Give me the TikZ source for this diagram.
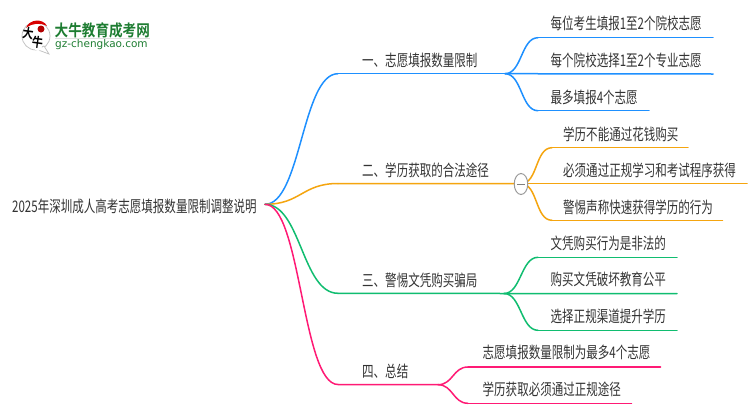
\documentclass[tikz,border=0pt]{standalone}
\usepackage{fontspec}
\usetikzlibrary{calc,shapes.geometric}
\newfontfamily\cjk[FakeStretch=0.72]{Noto Sans CJK SC}
\newfontfamily\cjkb[FakeStretch=0.85]{Noto Sans CJK SC Bold}
\newfontfamily\lat{DejaVu Sans}
\definecolor{cblue}{HTML}{1E90FF}
\definecolor{corange}{HTML}{F5A50F}
\definecolor{cgreen}{HTML}{10BD70}
\definecolor{cpink}{HTML}{FF1A75}
\definecolor{ctext}{HTML}{333333}
\definecolor{cgz}{HTML}{1E7D32}
\tikzset{
  lab/.style={anchor=west,inner sep=0pt,font=\cjk\fontsize{16}{16}\selectfont,text=ctext},
  conn/.style={line width=1.5pt,line cap=round},
  pt/.style={inner sep=0pt,minimum size=0pt}
}
\newcommand{\lk}[4]{\draw[conn,#1] (#2) .. controls ($(#2)+(#4,0)$) and ($(#3)+(-#4,0)$) .. (#3);}
\begin{document}
\begin{tikzpicture}[x=1pt,y=-1pt]
\useasboundingbox[fill=white] (0,0) rectangle (750,410);
% root
\node[lab] (root) at (12,206) {2025年深圳成人高考志愿填报数量限制调整说明};
\coordinate (r) at (265,204.3);
% level 1 lines
\coordinate (a0) at (338,73.7); \coordinate (a1) at (505,73.7);
\coordinate (b0) at (338,183.5); \coordinate (b1) at (521,183.7);
\coordinate (c0) at (338,293.3); \coordinate (c1) at (504,293.5);
\coordinate (d0) at (338,384.5); \coordinate (d1) at (438,384.7);
\lk{cblue}{r}{a0}{36}
\lk{corange}{r}{b0}{36}
\lk{cgreen}{r}{c0}{36}
\lk{cpink}{r}{d0}{36}
\draw[conn,cblue] (a0)--(a1);
\draw[conn,corange] (b0)--(b1);
\draw[conn,cgreen] (c0)--(c1);
\draw[conn,cpink] (d0)--(d1);
\node[lab] (A) at (362,60) {一、志愿填报数量限制};
\node[lab] (B) at (362,170) {二、学历获取的合法途径};
\node[lab] (C) at (362,280) {三、警惕文凭购买骗局};
\node[lab] (D) at (362,371) {四、总结};
% blue leaves
\coordinate (a10) at (538,37.7); \coordinate (a11) at (713,37.7);
\coordinate (a21) at (713,74);
\coordinate (a30) at (538,110.7); \coordinate (a31) at (649,110.7);
\lk{cblue}{a1}{a10}{17} \lk{cblue}{a1}{a30}{17}
\draw[conn,cblue] (a1)--(a21);
\draw[conn,cblue] (a10)--(a11);
\draw[conn,cblue] (a30)--(a31);
\node[lab] (A1) at (550.5,23) {每位考生填报1至2个院校志愿};
\node[lab] (A2) at (550.5,60) {每个院校选择1至2个专业志愿};
\node[lab] (A3) at (550.5,97) {最多填报4个志愿};
% orange leaves
\coordinate (b10) at (552,147.7); \coordinate (b11) at (688,147.7);
\coordinate (b21) at (747,183.7);
\coordinate (b30) at (552,220.3); \coordinate (b31) at (722.5,220.3);
\lk{corange}{b1}{b10}{17} \lk{corange}{b1}{b30}{17}
\draw[conn,corange] (b1)--(b21);
\draw[conn,corange] (b10)--(b11);
\draw[conn,corange] (b30)--(b31);
\node[draw=gray!80,fill=white,ellipse,line width=1pt,minimum width=13.5pt,minimum height=21pt,inner sep=0pt] (tog) at (521,184) {};
\draw[gray,line width=1pt] ($(tog)+(-4,0)$)--($(tog)+(4,0)$);
\node[lab] (B1) at (563,134) {学历不能通过花钱购买};
\node[lab] (B2) at (563,170) {必须通过正规学习和考试程序获得};
\node[lab] (B3) at (563,207) {警惕声称快速获得学历的行为};
% green leaves
\coordinate (c10) at (538,257.3); \coordinate (c11) at (677,257.3);
\coordinate (c21) at (677,293.7);
\coordinate (c30) at (538,330.3); \coordinate (c31) at (677,330.3);
\lk{cgreen}{c1}{c10}{17} \lk{cgreen}{c1}{c30}{17}
\draw[conn,cgreen] (c1)--(c21);
\draw[conn,cgreen] (c10)--(c11);
\draw[conn,cgreen] (c30)--(c31);
\node[lab] (C1) at (550.5,243) {文凭购买行为是非法的};
\node[lab] (C2) at (550.5,279.5) {购买文凭破坏教育公平};
\node[lab] (C3) at (550.5,316) {选择正规渠道提升学历};
% pink leaves
\coordinate (d10) at (468,367); \coordinate (d11) at (660.5,367);
\coordinate (d20) at (468,403.3); \coordinate (d21) at (631.5,403.3);
\lk{cpink}{d1}{d10}{15} \lk{cpink}{d1}{d20}{15}
\draw[conn,cpink] (d10)--(d11);
\draw[conn,cpink] (d20)--(d21);
\node[lab] (D1) at (482.5,352.5) {志愿填报数量限制为最多4个志愿};
\node[lab] (D2) at (482.5,389.5) {学历获取必须通过正规途径};
% logo
\fill[white,draw=black!25,line width=.7pt] (36,36) circle (14);
\fill[white,draw=black!25,line width=.7pt] (37,49.5)--(49,54)--(44,46)--cycle;
\fill[white] (38,47) circle (4);
\fill[red!85!black] (26,28) .. controls (29,19) and (43,18) .. (47,26) .. controls (40,22.5) and (32,23) .. (26,28) -- cycle;
\fill[red!70!black] (41,29) circle (3.5);
\node[pt,font=\cjkb\fontsize{13}{13}\selectfont,text=black,rotate=-8] (l1) at (28,33) {大};
\node[pt,font=\cjkb\fontsize{13}{13}\selectfont,text=black,rotate=-8] (l2) at (37.5,42) {牛};
\node[pt,anchor=west,font=\cjkb\fontsize{16}{16}\selectfont,text=cgz] (l3) at (54.5,30) {大牛教育成考网};
\draw[black!12,line width=.8pt] (55,38.5)--(150,38.5);
\node[pt,anchor=west,font=\lat\fontsize{10.5}{10.5}\selectfont,text=cgz] (l4) at (55,45) {gz-chengkao.com};
\end{tikzpicture}
\end{document}
